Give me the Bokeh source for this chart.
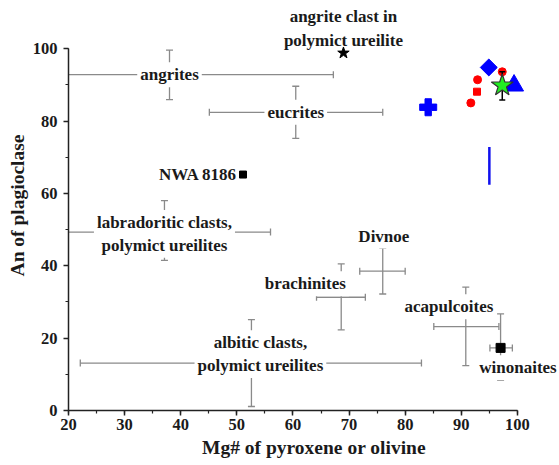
import math
from bokeh.plotting import figure
from bokeh.models import Range1d, SingleIntervalTicker, ColumnDataSource, Label
from bokeh.embed import file_html
from bokeh.resources import INLINE

# ---- gray range crosses (literature groups) ----
grp_x = [38.0, 60.5, 37.1, 52.6, 68.6, 76.0, 90.8, 97.0]      # x of vertical bar
grp_ylow = [85.9, 75.2, 41.5, 1.1, 22.3, 32.2, 12.4, 8.3]
grp_yhigh = [99.6, 89.6, 58.0, 25.1, 40.5, 44.9, 34.1, 26.7]
grp_y = [92.8, 82.4, 49.3, 13.1, 31.3, 38.5, 23.2, 17.3]       # y of horizontal bar
grp_xlow = [10.0, 45.1, 12.0, 22.1, 64.2, 71.9, 85.1, 95.1]
grp_xhigh = [67.2, 76.0, 56.0, 82.9, 72.9, 80.0, 96.7, 99.1]

# ---- group labels ----
lab_text = ["angrites", "eucrites", "labradoritic clasts,\npolymict ureilites",
            "albitic clasts,\npolymict ureilites", "brachinites", "Divnoe",
            "acapulcoites", "winonaites"]
lab_x = [38.0, 60.5, 37.1, 54.2, 62.2, 76.2, 87.8, 100.1]
lab_y = [92.8, 82.4, 48.8, 15.6, 35.0, 48.2, 28.7, 11.8]

# ---- individual points ----
red_circ_x = [92.9, 91.7, 97.3]
red_circ_y = [91.4, 85.0, 93.6]
red_sq_x = [92.8]
red_sq_y = [88.1]
blue_plus_x = [84.1]
blue_plus_y = [83.8]
blue_dia_x = [94.9]
blue_dia_y = [94.8]
blue_tri_x = [99.4]
blue_tri_y = [89.8]
green_star_x = [97.3]
green_star_y = [89.8]
green_star_ylow = [85.8]
green_star_yhigh = [93.6]
blue_line_x = [95.0]
blue_line_ylow = [62.4]
blue_line_yhigh = [72.8]
ang_clast_x = [69.0]
ang_clast_y = [98.8]
ang_clast_label = "angrite clast in\npolymict ureilite"
nwa_x = [51.1]
nwa_y = [65.2]
nwa_label = "NWA 8186"
win_x = [97.0]
win_y = [17.3]

FONT = "'Liberation Serif', 'Times New Roman', Tinos, 'Nimbus Roman', serif"
GRAY = "#8a8a8a"
TXT = "#1a1a1a"

p = figure(width=559, height=465, output_backend="svg", toolbar_location=None,
           x_range=Range1d(20, 107.5), y_range=Range1d(0, 113.3),
           min_border_left=68, min_border_right=0, min_border_top=0, min_border_bottom=55)
p.outline_line_color = None
p.xgrid.visible = False
p.ygrid.visible = False
p.background_fill_color = "white"
p.border_fill_color = "white"

for ax in (p.xaxis[0], p.yaxis[0]):
    ax.axis_line_width = 1.5
    ax.axis_line_color = "#222222"
    ax.major_tick_line_color = "#222222"
    ax.minor_tick_line_color = "#222222"
    ax.major_tick_line_width = 1.5
    ax.minor_tick_line_width = 1.2
    ax.major_tick_in = 0
    ax.major_tick_out = 5
    ax.minor_tick_in = 0
    ax.minor_tick_out = 3
    ax.major_label_text_font = FONT
    ax.major_label_text_font_style = "bold"
    ax.major_label_text_font_size = "16.5px"
    ax.major_label_text_color = TXT
    ax.axis_label_text_font = FONT
    ax.axis_label_text_font_style = "bold"
    ax.axis_label_text_font_size = "19.5px"
    ax.axis_label_text_color = TXT

p.xaxis[0].ticker = SingleIntervalTicker(interval=10, num_minor_ticks=2)
p.yaxis[0].ticker = SingleIntervalTicker(interval=20, num_minor_ticks=2)
p.xaxis[0].bounds = (20, 100)
p.yaxis[0].bounds = (0, 100)
p.xaxis[0].axis_label = "Mg# of pyroxene or olivine"
p.yaxis[0].axis_label = "An of plagioclase"
p.xaxis[0].axis_label_standoff = 4
p.yaxis[0].axis_label_standoff = 2
p.xaxis[0].major_label_standoff = 3
p.yaxis[0].major_label_standoff = 6

# gray crosses
src = ColumnDataSource(dict(x=grp_x, ylow=grp_ylow, yhigh=grp_yhigh,
                            y=grp_y, xlow=grp_xlow, xhigh=grp_xhigh))
p.segment(x0="x", y0="ylow", x1="x", y1="yhigh", source=src, line_color=GRAY, line_width=1.3)
p.segment(x0="xlow", y0="y", x1="xhigh", y1="y", source=src, line_color=GRAY, line_width=1.3)
p.dash(x="x", y="ylow", source=src, size=7, line_color=GRAY, line_width=1.3)
p.dash(x="x", y="yhigh", source=src, size=7, line_color=GRAY, line_width=1.3)
p.dash(x="xlow", y="y", source=src, size=7, angle=math.pi / 2, line_color=GRAY, line_width=1.3)
p.dash(x="xhigh", y="y", source=src, size=7, angle=math.pi / 2, line_color=GRAY, line_width=1.3)

# labels with white background
for t, lx, ly in zip(lab_text, lab_x, lab_y):
    p.add_layout(Label(x=lx, y=ly, text=t, text_align="center", text_baseline="middle",
                       text_font=FONT, text_font_style="bold", text_font_size="17px",
                       text_color=TXT, text_line_height=1.2,
                       background_fill_color="white", padding=3))

# angrite clast
p.star(x=ang_clast_x, y=ang_clast_y, size=12, fill_color="black", line_color="black")
p.add_layout(Label(x=ang_clast_x[0], y=105.6, text=ang_clast_label,
                   text_align="center", text_baseline="middle", text_font=FONT,
                   text_font_style="bold", text_font_size="17px", text_color=TXT,
                   text_line_height=1.25))

# NWA 8186
p.square(x=nwa_x, y=nwa_y, size=7, fill_color="black", line_color="black")
p.add_layout(Label(x=nwa_x[0], y=nwa_y[0], text=nwa_label, x_offset=-6, text_align="right",
                   text_baseline="middle", text_font=FONT, text_font_style="bold",
                   text_font_size="17px", text_color=TXT))

# winonaites point
p.square(x=win_x, y=win_y, size=9, fill_color="black", line_color="black")

# colored points
p.segment(x0=blue_line_x, y0=blue_line_ylow, x1=blue_line_x, y1=blue_line_yhigh,
          line_color="#1010ee", line_width=2.5)
p.plus(x=blue_plus_x, y=blue_plus_y, size=17, fill_color="#0000ff", line_color="#0000ff")
p.square(x=blue_dia_x, y=blue_dia_y, size=12, angle=math.pi / 4,
         fill_color="#0000ff", line_color="#0000ff")
p.scatter(x=red_circ_x, y=red_circ_y, size=8, marker="circle",
          fill_color="#ff0000", line_color="#ff0000")
p.square(x=red_sq_x, y=red_sq_y, size=7, fill_color="#ff0000", line_color="#ff0000")
p.triangle(x=blue_tri_x, y=blue_tri_y, size=19, fill_color="#0000ff", line_color="#0000ff")
p.segment(x0=green_star_x, y0=green_star_ylow, x1=green_star_x, y1=green_star_yhigh,
          line_color="black", line_width=1.5)
p.dash(x=green_star_x, y=green_star_ylow, size=6, line_color="black", line_width=1.5)
p.dash(x=green_star_x, y=green_star_yhigh, size=6, line_color="black", line_width=1.5)
p.star(x=green_star_x, y=green_star_y, size=23, fill_color="#22ee22", line_color="#333333",
       line_width=1.2)

open("out.html", "w").write(file_html(p, INLINE))
